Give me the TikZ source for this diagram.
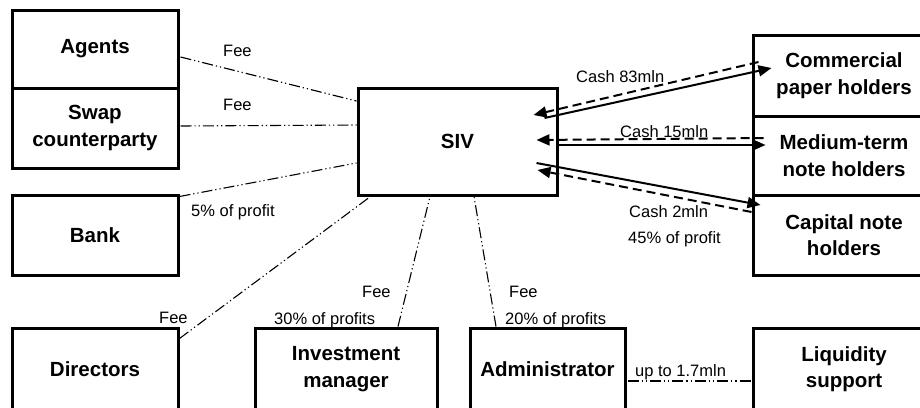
\documentclass[tikz,border=0pt]{standalone}
\usepackage{fontspec}
\setmainfont{Liberation Sans}
\usetikzlibrary{arrows.meta,calc}
\begin{document}
\begin{tikzpicture}[x=1pt,y=-1pt,
  box/.style={draw, line width=3pt, rectangle, inner sep=0pt, align=center,
    font=\fontsize{20.5}{26.5}\selectfont\bfseries},
  lbl/.style={inner sep=0pt, anchor=base west, font=\fontsize{16.5}{20}\selectfont},
  feeline/.style={line width=1.1pt, dash pattern=on 11pt off 3pt on 1.2pt off 3pt on 1.2pt off 3pt},
  cashline/.style={line width=2pt, -{Triangle[length=13pt,width=11pt]}},
  dashcash/.style={cashline, dash pattern=on 9pt off 5pt}]
\useasboundingbox (0,0) rectangle (920,407);
\clip (0,0) rectangle (920,407);
% boxes
\node[box, minimum width=166pt, minimum height=78pt] (agents) at (95,49) {Agents};
\node[box, minimum width=166pt, minimum height=80pt] (swap) at (95,128) {Swap\\counterparty};
\node[box, minimum width=166pt, minimum height=80pt] (bank) at (95,235) {Bank};
\node[box, minimum width=166pt, minimum height=82pt] (directors) at (95,369) {Directors};
\node[box, minimum width=182pt, minimum height=82pt] (im) at (346,369) {Investment\\manager};
\node[box, minimum width=155pt, minimum height=82pt] (admin) at (547.5,369) {Administrator};
\node[box, minimum width=182pt, minimum height=82pt] (liq) at (844,369) {Liquidity\\support};
\node[box, minimum width=182pt, minimum height=81pt] (cp) at (844,75.5) {Commercial\\paper holders};
\node[box, minimum width=182pt, minimum height=79pt] (mt) at (844,155.5) {Medium-term\\note holders};
\node[box, minimum width=182pt, minimum height=80pt] (cap) at (844,235) {Capital note\\holders};
\node[box, minimum width=199pt, minimum height=107pt] (siv) at (457.5,141.5) {SIV};
% fee lines
\draw[feeline] ($(agents.east)+(1,8)$) -- ($(siv.west)+(0,-40.5)$);
\draw[feeline] ($(swap.east)+(1,-2)$) -- ($(siv.west)+(0,-16.5)$);
\draw[feeline] ($(bank.north east)+(0,3)$) -- ($(siv.west)+(0,21.5)$);
\draw[feeline] ($(directors.north east)+(0,12)$) -- ($(siv.south west)+(14,0)$);
\draw[feeline] ($(im.north)+(52,0)$) -- ($(siv.south)+(-27.5,0)$);
\draw[feeline] ($(admin.north)+(-51.5,0)$) -- ($(siv.south)+(16.5,0)$);
\draw[feeline] ($(admin.east)+(1,12)$) -- ($(liq.west)+(0,12)$);
% cash arrows
\draw[cashline] ($(siv.east)+(-14,-23.5)$) -- ($(cp.west)+(20,-7.5)$);
\draw[dashcash] ($(cp.west)+(7,-13.5)$) -- ($(siv.east)+(-25,-26.5)$);
\draw[dashcash] ($(mt.west)+(12,-17.5)$) -- ($(siv.east)+(-22,-1.5)$);
\draw[cashline] ($(siv.east)+(-2,3.5)$) -- ($(mt.west)+(14,-10.5)$);
\draw[cashline] ($(siv.east)+(-22,21.5)$) -- ($(cap.west)+(9,-30)$);
\draw[dashcash] ($(cap.west)+(0,-23)$) -- ($(siv.east)+(-21,28.5)$);
% labels
\node[lbl] (l1) at (223,56) {Fee};
\node[lbl] (l2) at (223,110) {Fee};
\node[lbl] (l3) at (191,216) {5\% of profit};
\node[lbl] (l4) at (159,323) {Fee};
\node[lbl] (l5) at (362,297) {Fee};
\node[lbl] (l6) at (274,324) {30\% of profits};
\node[lbl] (l7) at (509,297) {Fee};
\node[lbl] (l8) at (505,324) {20\% of profits};
\node[lbl] (l9) at (635,376) {up to 1.7mln};
\node[lbl] (l10) at (576,82) {Cash 83mln};
\node[lbl] (l11) at (620,137) {Cash 15mln};
\node[lbl] (l12) at (629,217) {Cash 2mln};
\node[lbl] (l13) at (628,243) {45\% of profit};
\end{tikzpicture}
\end{document}
